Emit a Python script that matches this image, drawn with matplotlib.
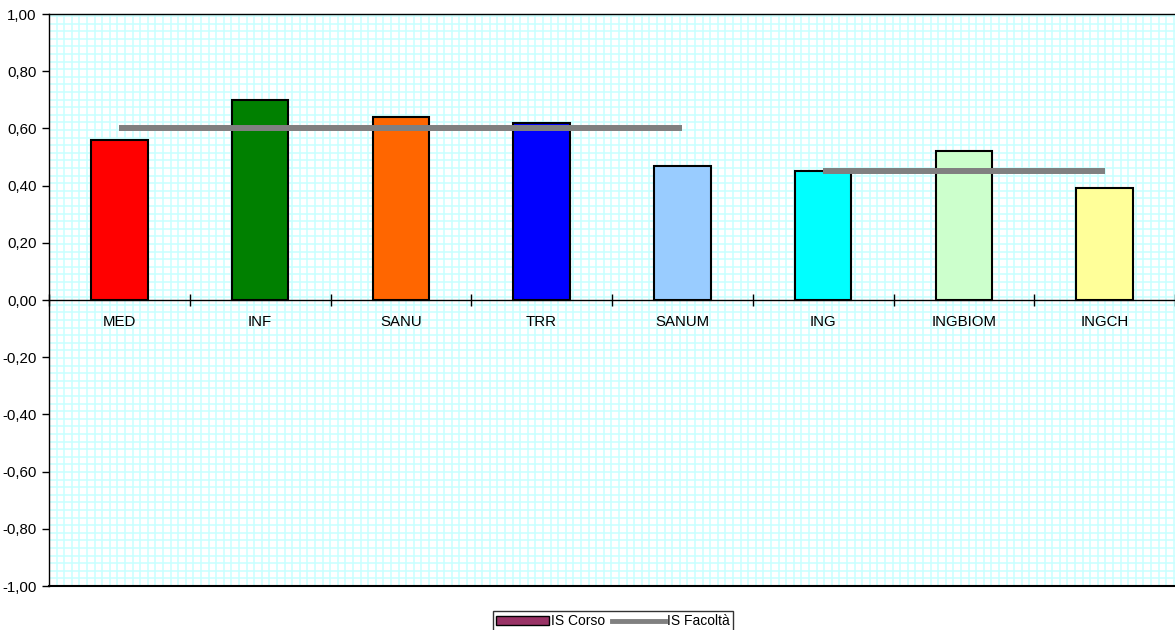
import matplotlib
matplotlib.use("Agg")
import matplotlib.pyplot as plt
import numpy as np
from matplotlib.patches import Patch
from matplotlib.lines import Line2D

categories = ["MED", "INF", "SANU", "TRR", "SANUM", "ING", "INGBIOM", "INGCH"]
is_corso = [0.56, 0.70, 0.64, 0.62, 0.47, 0.45, 0.52, 0.39]
is_facolta_group1 = [0.60, 0.60, 0.60, 0.60, 0.60]   # MED..SANUM
is_facolta_group2 = [0.45, 0.45, 0.45]               # ING..INGCH
bar_colors = ["#FF0000", "#008000", "#FF6600", "#0000FF",
              "#99CCFF", "#00FFFF", "#CCFFCC", "#FFFF99"]
yticks = [-1.0, -0.8, -0.6, -0.4, -0.2, 0.0, 0.2, 0.4, 0.6, 0.8, 1.0]

plt.rcParams['font.family'] = ['Liberation Sans', 'DejaVu Sans']
FS = 10.8

W, H = 1175, 630
fig = plt.figure(figsize=(W/100, H/100), dpi=100)
ax = fig.add_axes([49/W, (H-586)/H, 1126/W, (586-14)/H])

x = np.arange(len(categories))
ax.set_xlim(-0.5, len(categories)-0.5)
ax.set_ylim(-1, 1)

# cyan grid pattern (~7.6 px spacing)
px = 7.6
xstep = px / (1126/len(categories))
ystep = px / ((586-14)/2.0)
gx = np.arange(-0.5, len(categories)-0.5, xstep)
gy = np.arange(-1, 1, ystep)
for v in gx:
    ax.axvline(v, color="#C8FFFF", lw=1.1, zorder=0)
for v in gy:
    ax.axhline(v, color="#C8FFFF", lw=1.1, zorder=0)

ax.bar(x, is_corso, width=0.4, color=bar_colors, edgecolor="black",
       linewidth=1.5, zorder=3)
ax.plot(x[:5], is_facolta_group1, color="#808080", lw=4.3,
        solid_capstyle="butt", zorder=4)
ax.plot(x[5:], is_facolta_group2, color="#808080", lw=4.3,
        solid_capstyle="butt", zorder=4)

# axes styling
ax.spines['bottom'].set_position(('data', 0))
ax.spines['right'].set_visible(False)
for s in ['left', 'top', 'bottom']:
    ax.spines[s].set_color('black')
    ax.spines[s].set_linewidth(1.0)
    ax.spines[s].set_zorder(5)
ax.axhline(-1, color='black', lw=1.5, zorder=5, clip_on=False)

ax.set_xticks(x)
ax.set_xticklabels(categories, fontsize=FS)
ax.set_xticks(np.arange(-0.5, len(categories)), minor=True)
ax.tick_params(axis='x', which='major', length=0, pad=11)
ax.tick_params(axis='x', which='minor', length=8, direction='inout',
               width=1, color='black')

ax.set_yticks(yticks)
ax.set_yticklabels([f"{v:.2f}".replace('.', ',') for v in yticks], fontsize=FS)
ax.tick_params(axis='y', length=5, width=1, direction='out', pad=4)

handles = [Patch(facecolor="#993366", edgecolor="black", linewidth=1),
           Line2D([0], [0], color="#808080", lw=3.5)]
leg = fig.legend(handles, ["IS Corso", "IS Facoltà"], loc='upper center',
                 bbox_to_anchor=(613/W, 1-611/H), ncol=2, fontsize=10,
                 frameon=True, fancybox=False, handlelength=3.8,
                 handleheight=0.6, handletextpad=0.15, columnspacing=0.5,
                 borderpad=0.25, borderaxespad=0)
leg.get_frame().set_edgecolor('black')
leg.get_frame().set_linewidth(1.0)

fig.savefig("out.png", dpi=100)
